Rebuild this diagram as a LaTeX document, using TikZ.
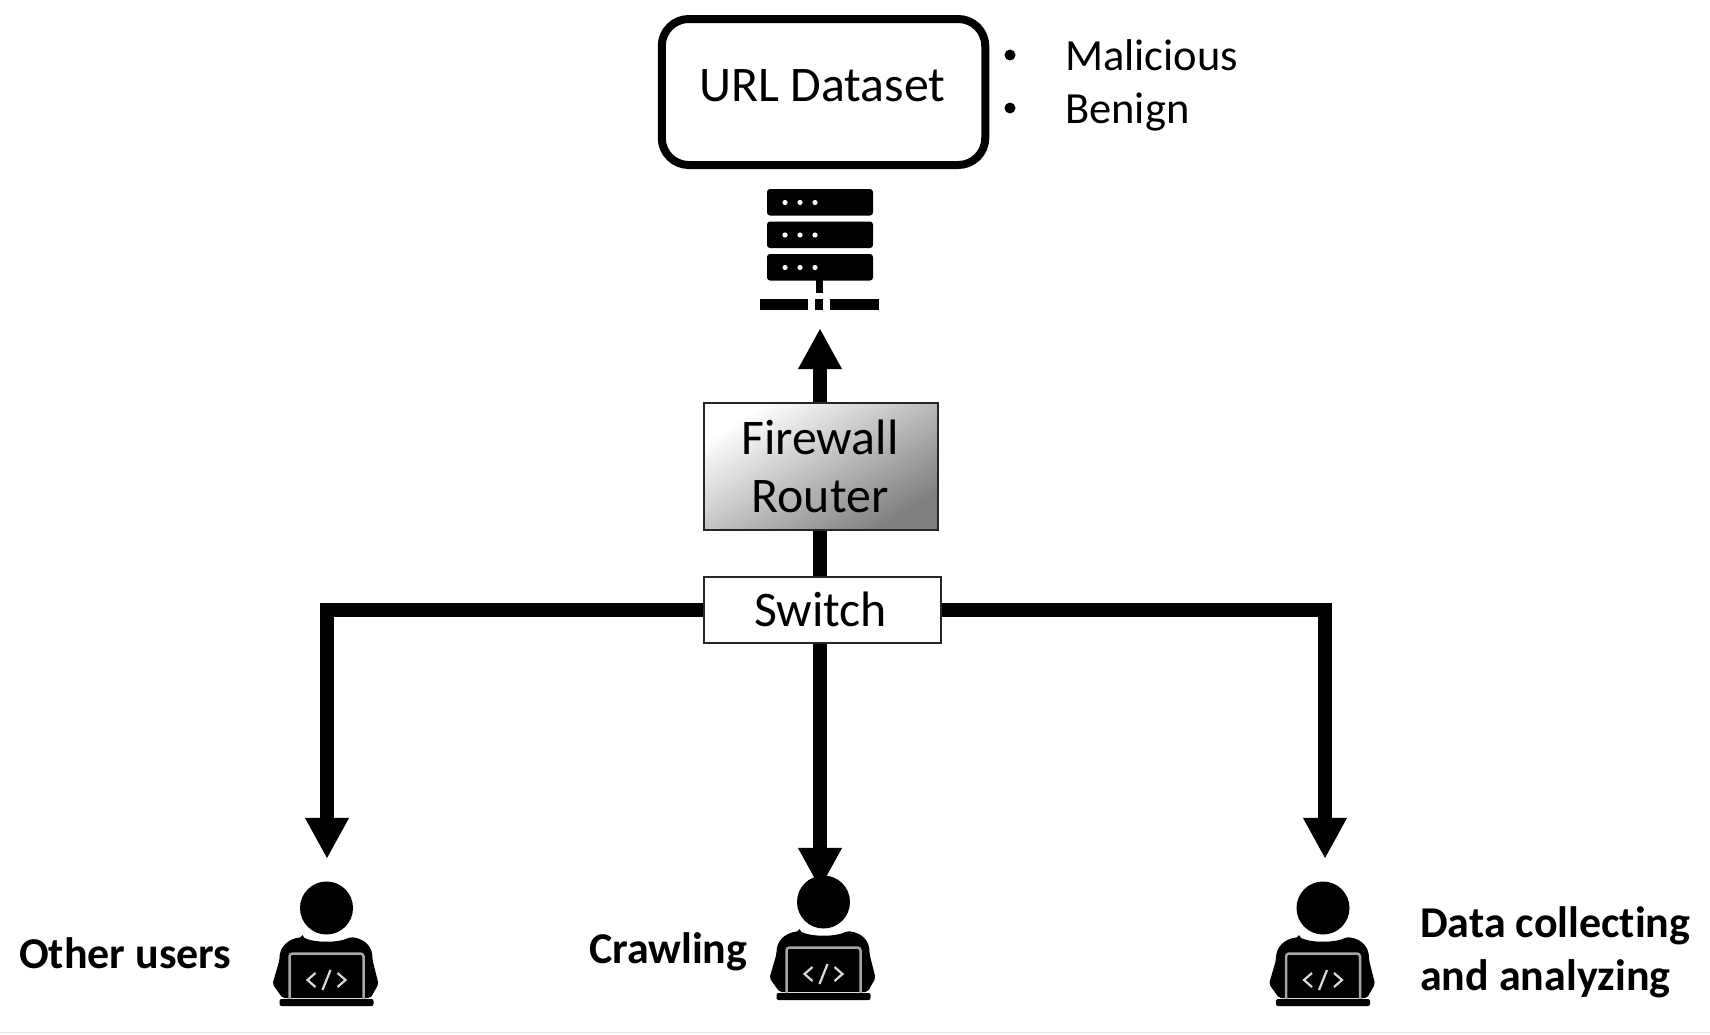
\documentclass[tikz,border=0pt]{standalone}
\usepackage{fontspec}
\setmainfont[Ligatures=NoCommon]{Carlito}
\usetikzlibrary{arrows.meta}
\tikzset{
  boxtext/.style={font=\fontsize{49.8}{58}\selectfont,align=center,inner sep=0pt},
  listtext/.style={font=\fontsize{44.5}{47}\selectfont,anchor=base west,inner sep=0pt},
  boldlabel/.style={font=\fontsize{44}{53}\selectfont\bfseries,inner sep=0pt},
  datasetbox/.style={boxtext,draw=black,line width=8pt,rounded corners=27pt,fill=white,minimum width=323.5pt,minimum height=146pt},
  firewallbox/.style={boxtext,draw=black!85,line width=2pt,shading=axis,top color=white,middle color=black!20,bottom color=black!50,shading angle=32,minimum width=234pt,minimum height=127pt},
  switchbox/.style={boxtext,draw=black!85,line width=2pt,fill=white,minimum width=237pt,minimum height=66pt},
  anchorbox/.style={inner sep=0pt,minimum width=110pt},
  link/.style={line width=14pt,black},
  arrowlink/.style={link,-{Triangle[width=41pt,length=41pt]}},
  usericon/.pic={
    \fill[black] (0,0) circle (26.5pt);
    \fill[black,rounded corners=2pt]
      (-24,29) .. controls (-40,31) and (-47,40) .. (-47,52)
      -- (-54,76) -- (-44,90) -- (44,90) -- (52,76) -- (46,52)
      .. controls (46,40) and (40,31) .. (24,29)
      .. controls (12,35) and (-12,35) .. (-24,29) -- cycle;
    \draw[black!35,line width=2.5pt,rounded corners=3pt] (-37,92) -- (-37,45.5) -- (37,45.5) -- (37,92);
    \fill[black,rounded corners=2pt] (-47,91) rectangle (47,98);
    \draw[black!15,line width=2.2pt] (-11,65) -- (-19,72) -- (-11,79);
    \draw[black!15,line width=2.2pt] (11,65) -- (19,72) -- (11,79);
    \draw[black!15,line width=2.2pt] (4,62) -- (-4,82);
  }
}
\begin{document}
\begin{tikzpicture}[x=1pt,y=-1pt]
\useasboundingbox (0,0) rectangle (1710,1034);
\fill[white] (0,0) rectangle (1710,1034);
\draw[black!10,line width=1.5pt] (0,1032.5) -- (1710,1032.5);
% boxes
\node[datasetbox] (dataset) at (823.5,92) {};
\node[boxtext,anchor=center] (datasetlabel) at (822.5,86) {URL Dataset};
\node[firewallbox] (firewall) at (821,466.5) {\hspace*{-2pt}Firewall\\\hspace*{-2pt}Router};
\node[switchbox] (switch) at (822,609.5) {\hspace*{-3pt}Switch};
% list
\fill[black] (1010,55) circle (5.5pt);
\fill[black] (1010,108) circle (5.5pt);
\node[listtext] (malicious) at (1065,70.5) {Malicious};
\node[listtext] (benign) at (1065,123.5) {Benign};
% server icon
\node[anchorbox,minimum height=122pt] (server) at (820,250) {};
\foreach \y in {189,221.5,254}{
  \fill[black,rounded corners=3pt] (767,\y) rectangle (873,\y+26.5);
  \foreach \x in {785,800,815}{\fill[white] (\x,\y+13.5) circle (2.6pt);}
}
\fill[black] (816,280) rectangle (823,293);
\fill[black] (760,299) rectangle (808,310);
\fill[black] (815,299) rectangle (823,310);
\fill[black] (830,299) rectangle (879,310);
% users
\node[anchorbox,minimum height=125pt] (userleft) at (327,943.5) {};
\node[anchorbox,minimum height=125pt] (usercentre) at (820,951.5) {};
\node[anchorbox,minimum height=125pt] (userright) at (1325,943.5) {};
% connectors
\coordinate (trunk) at (820,600);
\draw[arrowlink,shorten >=17pt] (firewall.north -| trunk) -- (server.south);
\draw[link] (firewall.south -| trunk) -- (switch.north -| trunk);
\draw[arrowlink,shorten >=22pt] (switch.west) -| (userleft.north);
\draw[arrowlink,shorten >=22pt] (switch.east) -| (userright.north);
\draw[arrowlink] (switch.south -| trunk) -- (usercentre.north);
% user icons
\pic at (326.5,908) {usericon};
\pic at (823.5,902) {usericon};
\pic at (1323,908) {usericon};
% labels
\node[boldlabel,anchor=base west] (otherusers) at (19,968.5) {Other users};
\node[boldlabel,anchor=base west] (crawling) at (589,963) {Crawling};
\node[boldlabel,anchor=base west] (datacollecting) at (1420,937.5) {Data collecting};
\node[boldlabel,anchor=base west] (analyzing) at (1420,990) {and analyzing};
\end{tikzpicture}
\end{document}
